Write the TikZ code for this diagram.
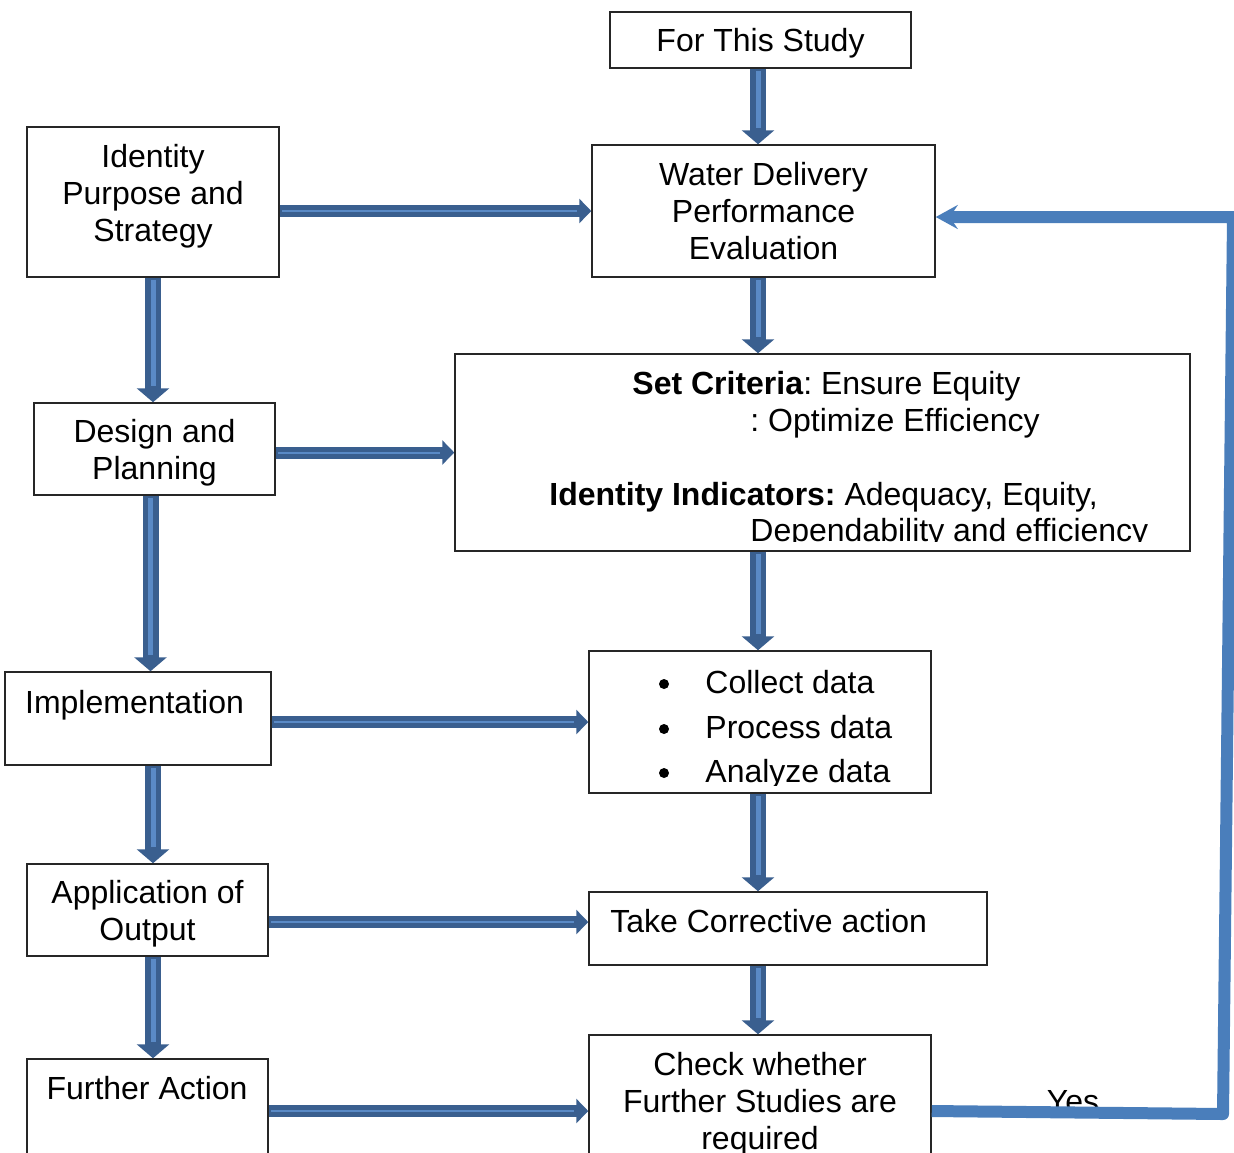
\documentclass[tikz,border=0pt]{standalone}
\usepackage{fontspec}
\setmainfont{Liberation Sans}
\usetikzlibrary{arrows.meta}
\definecolor{arrowdark}{HTML}{3A5F8F}
\definecolor{arrowlight}{HTML}{5A8AC6}
\definecolor{loopblue}{HTML}{4A7EBB}
\frenchspacing
\tikzset{
	box/.style={draw=black!85, line width=0.75pt, inner sep=0pt, align=center, text depth=0pt},
	txt/.style={inner sep=0pt, align=center, text depth=0pt},
	dot/.style={circle, fill=black, inner sep=0pt, minimum size=5pt},
	vblk/.style={line width=8pt, draw=arrowdark, -{Triangle[width=16pt,length=7pt]},
		postaction={draw=arrowlight, line width=2.5pt, -, shorten >=8pt, shorten <=1pt}},
	hblk/.style={line width=6pt, draw=arrowdark, -{Triangle[width=12pt,length=6pt]},
		postaction={draw=arrowlight, line width=1pt, -, shorten >=7pt, shorten <=1pt}},
	fback/.style={line width=6pt, draw=loopblue, line join=round, -{Stealth[length=11pt,width=12pt,inset=4pt]}}
}
\begin{document}
\begin{tikzpicture}[x=0.5pt, y=-0.5pt, font=\fontsize{16}{18.5}\selectfont]
	\useasboundingbox (0,0) rectangle (1234,1152);
	% right column
	\node[box, minimum width=150.5pt, minimum height=28pt] (study) at (760.5,40) {For This Study};
	\node[box, minimum width=171.5pt, minimum height=66pt] (wdpe) at (763.5,211) {Water Delivery\\Performance\\Evaluation};
	\node[box, minimum width=367.5pt, minimum height=98.5pt] (crit) at (822.5,452.5) {};
	\node[box, minimum width=171pt, minimum height=71pt] (data) at (760,722) {};
	\node[box, minimum width=199pt, minimum height=36.5pt] (corr) at (788,928.5) {};
	\node[box, minimum width=171pt, minimum height=82.5pt] (check) at (760,1117.5) {};
	% left column
	\node[box, minimum width=126pt, minimum height=75pt] (ident) at (153,202) {};
	\node[box, minimum width=120.5pt, minimum height=46pt] (design) at (154.5,449) {Design and\\Planning};
	\node[box, minimum width=133pt, minimum height=46.5pt] (impl) at (138,718.5) {};
	\node[box, minimum width=120.5pt, minimum height=46pt] (appl) at (147.5,910) {Application of\\Output};
	\node[box, minimum width=120.5pt, minimum height=70.5pt] (further) at (147.5,1129.5) {};

	% texts that sit off the box centre
	\node[txt] (ident-t) at (153,193) {Identity\\Purpose and\\Strategy};
	\node[txt, anchor=base] (impl-t) at (134.5,713) {Implementation};
	\node[txt, anchor=base west] (corr-t) at (610,932) {Take Corrective action};
	\node[txt, anchor=base] (further-t) at (147,1099) {Further Action};
	\node[txt] (check-t) at (760,1100.5) {Check whether\\Further Studies are\\required};
	\begin{scope}
		\clip (455,354) rectangle (1190,541);
		\node[txt, anchor=base west] (crit-a) at (632,394) {\textbf{Set Criteria}: Ensure Equity};
		\node[txt, anchor=base west] (crit-b) at (750,431) {: Optimize Efficiency};
		\node[txt, anchor=base west] (crit-c) at (549,505) {\textbf{Identity Indicators:} Adequacy, Equity,};
		\node[txt, anchor=base west] (crit-d) at (750,541) {Dependability and efficiency};
	\end{scope}
	\begin{scope}
		\clip (589,651) rectangle (931,785);
		\node[dot] (b1) at (664,684) {};
		\node[dot] (b2) at (664,729) {};
		\node[dot] (b3) at (664,773) {};
		\node[txt, anchor=base west] (data-a) at (705,693) {Collect data};
		\node[txt, anchor=base west] (data-b) at (705,738) {Process data};
		\node[txt, anchor=base west] (data-c) at (705,782) {Analyze data};
	\end{scope}
	\node[txt, anchor=base] (yes) at (1073,1112) {Yes};

	% down arrows
	\coordinate (rcol) at (758,0);
	\coordinate (lcol) at (153,0);
	\draw[vblk] (study.south -| rcol) -- (wdpe.north -| rcol);
	\draw[vblk] (wdpe.south -| rcol) -- (crit.north -| rcol);
	\draw[vblk] (crit.south -| rcol) -- (data.north -| rcol);
	\draw[vblk] (data.south -| rcol) -- (corr.north -| rcol);
	\draw[vblk] (corr.south -| rcol) -- (check.north -| rcol);
	\draw[vblk] (ident.south) -- (ident.south |- design.north);
	\draw[vblk] ([xshift=-2pt]design.south) -- ([xshift=-2pt]design.south |- impl.north);
	\draw[vblk] (impl.south -| lcol) -- (appl.north -| lcol);
	\draw[vblk] (appl.south -| lcol) -- (further.north -| lcol);

	% across arrows
	\draw[hblk] (ident.east |- wdpe.west) -- (wdpe.west);
	\draw[hblk] (design.east |- crit.west) -- (crit.west);
	\draw[hblk] (impl.east |- data.west) -- (data.west);
	\draw[hblk] ([yshift=-6pt]appl.east) -- ([yshift=-6pt]appl.east -| corr.west);
	\coordinate (chk-in) at ([yshift=3.25pt]check.west);
	\draw[hblk] (further.east |- chk-in) -- (chk-in);

	% loop back
	\coordinate (fb1) at (1223,1114);
	\coordinate (fb2) at (1233,217);
	\draw[fback] ([yshift=3.25pt]check.east) -- (fb1) -- (fb2) -- (wdpe.east |- fb2);
\end{tikzpicture}
\end{document}
